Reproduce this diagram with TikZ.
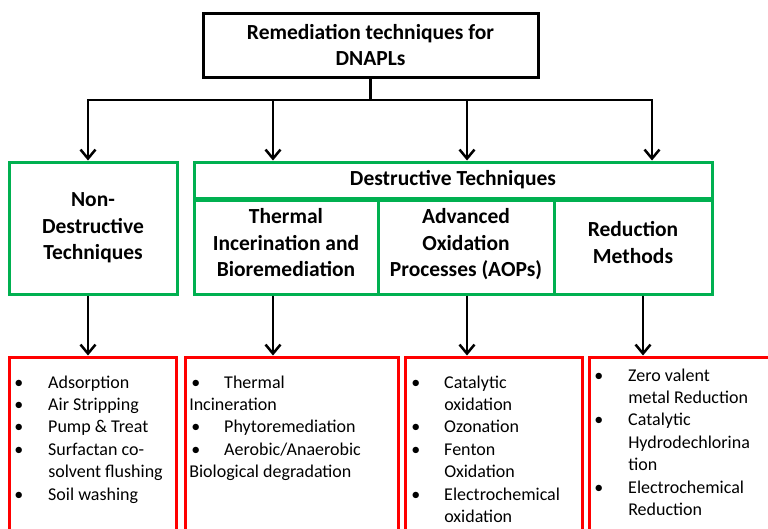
\documentclass[tikz,border=0pt]{standalone}
\usepackage{fontspec}
\setmainfont{Carlito}
\usetikzlibrary{arrows.meta}
\definecolor{grn}{RGB}{0,176,80}
\tikzstyle{head}=[draw=black, line width=3pt, minimum width=335pt, minimum height=64pt, align=center, font=\bfseries\fontsize{21.5}{26}\selectfont]
\tikzstyle{group}=[draw=grn, line width=3pt, inner sep=0pt, align=center, font=\bfseries\fontsize{21.5}{26.5}\selectfont]
\tikzstyle{list}=[draw=red, line width=3pt, minimum height=203pt]
\tikzstyle{items}=[anchor=base west, inner sep=0pt, align=left, font=\fontsize{18}{22.4}\selectfont]
\tikzstyle{arr}=[-{Straight Barb[length=9pt, width=15pt]}]
\newcommand{\bul}[1][34pt]{\makebox[#1][l]{•}}

\begin{document}
\begin{tikzpicture}[x=1pt, y=-1pt, line width=2.5pt]
                \clip (0,0) rectangle (768,528);
                \node[head] (r) at (370.5,45) {Remediation techniques for\\DNAPLs};
                % green boxes
                \node[group, minimum width=168pt, minimum height=132pt] (nd) at (93,228) {Non-\\Destructive\\Techniques};
                \node[group, minimum width=518pt, minimum height=36pt] (d) at (453,180) {Destructive Techniques};
                \node[group, minimum width=184pt, minimum height=94pt, text depth=9pt] (th) at (286,247) {Thermal\\Incerination and\\Bioremediation};
                \node[group, minimum width=176pt, minimum height=94pt, text depth=9pt] (ao) at (466,247) {Advanced\\Oxidation\\Processes (AOPs)};
                \node[group, minimum width=158pt, minimum height=94pt, text depth=9pt] (rm) at (633,247) {Reduction\\Methods};
                % red boxes
                \node[list, minimum width=167pt] (l1) at (92.5,458.5) {};
                \node[list, minimum width=213pt] (l2) at (291.5,458.5) {};
                \node[list, minimum width=177pt] (l3) at (493.5,458.5) {};
                \node[list, minimum width=201pt] (l4) at (689.5,458.5) {};
                \node[items] (t1) at (13,500) {\bul Adsorption\\ \bul Air Stripping\\ \bul Pump \& Treat\\ \bul Surfactan co-\\ \hspace*{34pt}solvent flushing\\ \bul Soil washing};
                \node[items] (t2) at (188,477.6) {\hspace*{2pt}\bul[33pt]Thermal\\ Incineration\\ \hspace*{2pt}\bul[33pt]Phytoremediation\\ \hspace*{2pt}\bul[33pt]Aerobic/Anaerobic\\ Biological degradation};
                \node[items] (t3) at (410,522.4) {\bul[33pt]Catalytic\\ \hspace*{33pt}oxidation\\ \bul[33pt]Ozonation\\ \bul[33pt]Fenton\\ \hspace*{33pt}Oxidation\\ \bul[33pt]Electrochemical\\ \hspace*{33pt}oxidation};
                \node[items] (t4) at (593,515.4) {\bul Zero valent\\ \hspace*{34pt}metal Reduction\\ \bul Catalytic\\ \hspace*{34pt}Hydrodechlorina\\ \hspace*{34pt}tion\\ \bul Electrochemical\\ \hspace*{34pt}Reduction};
                % connectors
                \coordinate (j) at (370.5,100);
                \coordinate (b1) at (88,100);
                \coordinate (b2) at (273,100);
                \coordinate (b3) at (467,100);
                \coordinate (b4) at (652,100);
                \draw (r) -- (j);
                \draw[line cap=rect] (b1) -- (b4);
                \foreach \b/\n in {b1/nd, b2/d, b3/d, b4/d}
                    \draw[arr] (\b) -- (\b |- \n.north);
                \draw[arr] (b1 |- nd.south) -- (b1 |- l1.north);
                \draw[arr] (b2 |- th.south) -- (b2 |- l2.north);
                \draw[arr] (b3 |- ao.south) -- (b3 |- l3.north);
                \draw[arr] ([xshift=10pt]rm.south) -- ([xshift=10pt]rm.south |- l4.north);
            \end{tikzpicture}
\end{document}
